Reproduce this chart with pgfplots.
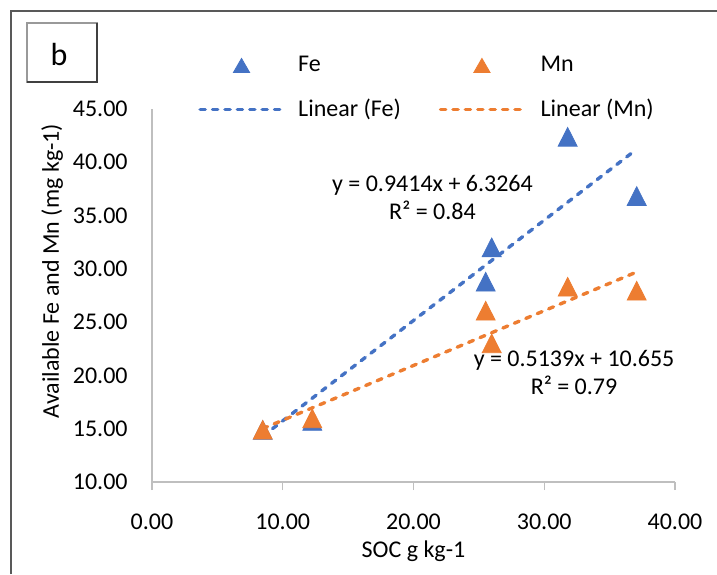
\documentclass[border=0pt]{standalone}
\usepackage{fontspec}
\setmainfont{Carlito}
\usepackage{pgfplots}
\pgfplotsset{compat=1.18}

\definecolor{feblue}{HTML}{4472C4}
\definecolor{mnorange}{HTML}{ED7D31}

\pgfplotsset{
    trileg/.style={legend image code/.code={\path[draw=none,fill=none] (0pt,0pt) -- (43pt,0pt);
        \draw[##1, mark size=4.7pt, mark options={yshift=-1.2pt}] plot coordinates {(21.5pt,0pt)};}},
    dashleg/.style={legend image code/.code={\draw[##1] (0.8pt,0pt) -- (43pt,0pt);}},
    trend/.style={line width=1.7pt, dash pattern=on 2.6pt off 3.6pt, line cap=round, dashleg},
}

\begin{document}
\fontsize{12}{14.4}\selectfont
\begin{tikzpicture}[x=0.5pt,y=0.5pt]
\path[use as bounding box] (0,0) rectangle (717,574);

% outer chart frame (cropped at right and bottom)
\draw[black!65, line width=1pt] (10.7,0) -- (10.7,563.3) -- (717,563.3);

% panel tag
\draw[black!40, line width=0.6pt, fill=white] (27,492) rectangle (97,551);
\draw[black!75, line width=1.2pt] (97,551) -- (97,492) -- (27,492);
\node[font=\fontsize{16}{18}\selectfont] at (59,519) {b};

\begin{axis}[
    at={(76pt,46pt)}, anchor=south west,
    scale only axis, width=261.5pt, height=186.5pt,
    xmin=0, xmax=40, ymin=10, ymax=45,
    xtick={0,10,20,30,40},
    ytick={10,15,...,45},
    axis lines*=left,
    axis line style={draw=black!25, line width=0.7pt},
    tick align=outside, major tick length=4pt,
    xtick style={draw=black!25, line width=0.7pt},
    ytick style={draw=none},
    /pgf/number format/fixed,
    /pgf/number format/fixed zerofill,
    /pgf/number format/precision=2,
    /pgf/number format/assume math mode=true,
    xticklabel style={yshift=-8pt},
    yticklabel style={xshift=-4pt},
    xlabel={SOC g kg-1},
    ylabel={Available Fe and Mn (mg kg-1)},
    xlabel style={at={(axis description cs:0.5,-0.185)}, anchor=center},
    ylabel style={at={(axis description cs:-0.191,0.5657)}, anchor=center},
    legend columns=2,
    legend cell align=left,
    legend style={at={(axis description cs:0.088,1.1541)}, anchor=north west,
        draw=none, fill=none, inner sep=0pt, row sep=8pt,
        /tikz/column 1/.style={column sep=4pt},
        /tikz/column 2/.style={column sep=17pt},
        /tikz/column 3/.style={column sep=5pt}},
    clip=false,
]

% Fe
\addplot[only marks, color=feblue, mark=triangle*, mark size=6.2pt,
    mark options={xscale=0.88, yshift=-1.55pt}, trileg]
coordinates {
    (8.47,14.88) (12.26,15.72) (25.52,28.79) (25.98,32.02) (31.79,42.39) (37.07,36.83)
};
\addlegendentry{Fe}

% Mn
\addplot[only marks, color=mnorange, mark=triangle*, mark size=6.2pt,
    mark options={xscale=0.88, yshift=-1.55pt}, trileg]
coordinates {
    (8.47,14.90) (12.26,15.97) (25.52,26.07) (25.98,23.01) (31.79,28.32) (37.07,27.95)
};
\addlegendentry{Mn}

% linear trend lines (end points from the fitted equations)
\addplot[feblue, trend] coordinates {(8.47,14.30) (37.0,41.16)};
\addlegendentry{Linear (Fe)}

\addplot[mnorange, trend] coordinates {(8.47,15.01) (37.0,29.67)};
\addlegendentry{Linear (Mn)}

\node[align=center] at (axis cs:21.45,36.69) {y = 0.9414x + 6.3264\\R² = 0.84};
\node[align=center] at (axis cs:32.28,20.27) {y = 0.5139x + 10.655\\R² = 0.79};

\end{axis}
\end{tikzpicture}
\end{document}
